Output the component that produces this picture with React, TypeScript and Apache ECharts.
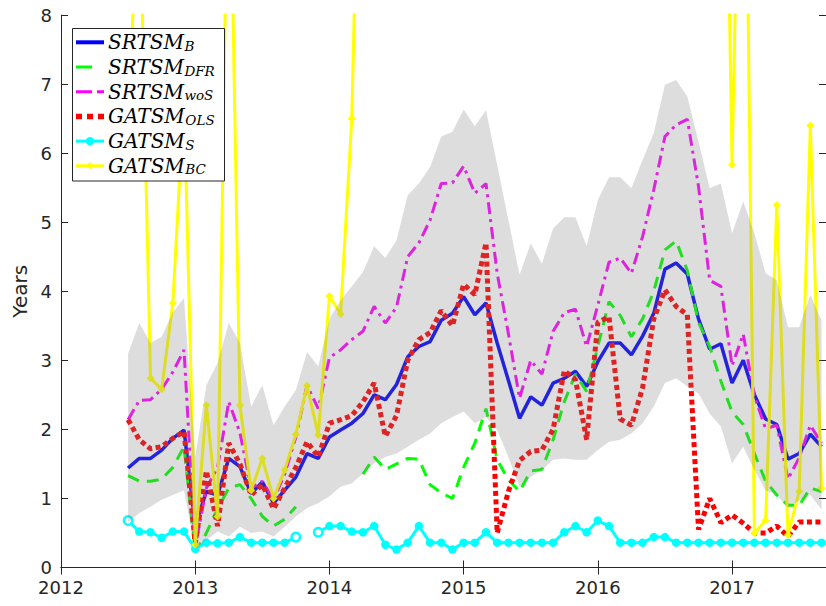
import React, { useEffect, useRef } from "react";
import * as echarts from "echarts";

// Monthly observations, Jul 2012 .. Sep 2017
const START_YEAR = 2012;
const START_MONTH = 7;
const N_MONTHS = 63;
const months: string[] = Array.from({ length: N_MONTHS }, (_, i) => {
  const m = START_MONTH - 1 + i;
  return `${START_YEAR + Math.floor(m / 12)}-${String((m % 12) + 1).padStart(2, "0")}`;
});
const xYears: number[] = months.map((s) => {
  const [y, m] = s.split("-").map(Number);
  return y + (m - 1) / 12;
});

const srtsmB = [1.44,1.58,1.58,1.70,1.87,1.99,0.60,1.10,1.05,1.58,1.46,1.07,1.24,0.93,1.12,1.31,1.65,1.58,1.89,1.99,2.09,2.23,2.50,2.43,2.65,3.05,3.20,3.27,3.58,3.68,3.92,3.66,3.83,3.25,2.71,2.16,2.47,2.35,2.67,2.74,2.84,2.62,2.98,3.25,3.25,3.08,3.35,3.68,4.32,4.41,4.25,3.60,3.16,3.24,2.67,3.00,2.50,2.15,2.07,1.57,1.65,1.93,1.75];
const srtsmDFR = [1.33,1.25,1.25,1.28,1.45,1.75,0.22,0.50,0.85,1.15,1.20,1.00,0.74,0.60,0.70,0.88,null,null,null,null,null,1.35,1.60,1.42,1.50,1.58,1.57,1.20,1.08,1.00,1.45,1.80,2.30,1.56,1.27,1.10,1.40,1.42,1.85,2.40,2.80,2.55,3.20,3.85,3.65,3.34,3.60,4.00,4.60,4.73,4.30,3.55,3.20,2.70,2.25,2.07,1.65,1.25,1.05,0.90,0.90,1.15,1.10];
const srtsmWoS = [2.14,2.42,2.43,2.58,2.83,3.15,0.30,1.15,1.45,2.40,1.95,1.15,1.25,0.98,1.35,1.89,2.64,2.30,3.04,3.15,3.30,3.42,3.78,3.54,3.77,4.50,4.70,5.03,5.56,5.57,5.81,5.42,5.56,4.26,3.39,2.45,3.00,2.80,3.42,3.69,3.74,3.20,3.80,4.42,4.48,4.26,4.79,5.47,6.24,6.41,6.49,5.52,4.16,4.07,2.92,3.38,2.48,2.01,2.06,1.28,1.59,2.06,1.80];
const gatsmOLS = [2.14,1.85,1.72,1.75,1.87,1.97,0.35,1.40,0.60,1.80,1.50,1.05,1.20,0.85,1.15,1.45,1.82,1.60,2.09,2.14,2.20,2.40,2.67,1.90,2.20,3.00,3.30,3.40,3.72,3.50,4.10,3.95,4.70,0.50,1.10,1.55,1.68,1.70,2.00,2.85,2.72,1.85,3.55,3.63,2.15,2.06,2.60,3.60,4.02,3.78,3.66,0.55,1.00,0.65,0.76,0.64,0.50,0.50,0.60,0.45,0.66,0.66,0.66];
const gatsmS = [0.68,0.52,0.51,0.43,0.52,0.52,0.27,0.36,0.35,0.36,0.44,0.36,0.36,0.36,0.36,0.44,null,0.51,0.60,0.60,0.52,0.51,0.60,0.33,0.26,0.36,0.60,0.36,0.36,0.26,0.36,0.36,0.51,0.36,0.36,0.36,0.36,0.36,0.36,0.51,0.60,0.51,0.68,0.60,0.36,0.36,0.36,0.44,0.44,0.36,0.36,0.36,0.36,0.36,0.36,0.36,0.36,0.36,0.36,0.36,0.36,0.36,0.36];
const gatsmBC = [6.5,10.0,2.74,2.58,3.83,6.8,0.33,2.35,0.74,11.5,2.35,1.12,1.58,1.00,1.41,1.93,2.63,1.92,3.93,3.67,6.50,13.4,
  null,null,null,null,null,null,null,null,null,null,null,null,null,null,null,null,null,null,null,null,null,null,null,null,null,null,null,null,null,null,null,
  15.5,5.83,13.9,0.50,0.68,5.25,0.47,1.10,6.40,1.15];
const bandUpper = [3.10,3.54,3.25,3.34,3.70,3.90,1.60,2.64,2.96,3.54,3.25,2.33,2.64,2.06,2.33,2.57,3.12,2.91,3.60,3.87,4.07,4.28,4.65,4.48,4.74,5.39,5.56,5.80,6.24,6.31,6.63,6.39,6.62,5.83,5.03,4.24,4.69,4.40,4.91,5.07,5.07,4.65,5.32,5.65,5.65,5.49,5.90,6.29,6.99,7.06,6.82,6.17,5.49,5.56,4.84,5.30,4.84,4.26,4.16,3.48,3.48,3.95,3.58];
const bandLower = [0.65,0.79,0.88,0.98,1.05,1.12,0.25,0.40,0.52,0.45,0.59,0.50,0.52,0.45,0.59,0.74,0.86,0.93,1.03,1.17,1.22,1.36,1.51,1.60,1.65,1.75,1.85,1.94,2.09,2.18,2.26,2.09,2.18,1.99,1.60,1.17,1.31,1.41,1.56,1.58,1.56,1.56,1.70,1.82,1.85,1.94,2.09,2.33,2.67,2.74,2.62,2.52,2.23,2.04,1.51,1.75,1.41,1.12,1.05,0.86,0.97,1.05,0.84];

const yearTicks = [2012, 2013, 2014, 2015, 2016, 2017];
const hollowCyan = [0, 15, 17];

const legendItems = [
  { main: "SRTSM", sub: "B", color: "#0000ff", width: 4, dash: null as number[] | null, marker: "" },
  { main: "SRTSM", sub: "DFR", color: "#00ff00", width: 3, dash: [16, 20], marker: "" },
  { main: "SRTSM", sub: "woS", color: "#ff00ff", width: 3, dash: [16, 5, 7, 5], marker: "" },
  { main: "GATSM", sub: "OLS", color: "#ff0000", width: 5.5, dash: [6, 5], marker: "" },
  { main: "GATSM", sub: "S", color: "#00ffff", width: 3, dash: null, marker: "circle" },
  { main: "GATSM", sub: "BC", color: "#ffff00", width: 3, dash: null, marker: "diamond" },
];

const AX = "#262626";
const FONT = "DejaVu Sans";

function pairs(arr: (number | null)[]) {
  return arr.map((v, i) => [xYears[i], v == null ? null : v]);
}

function measure(text: string, font: string) {
  const c = document.createElement("canvas").getContext("2d");
  if (!c) return text.length * 15;
  c.font = font;
  return c.measureText(text).width;
}

export default function App() {
  const ref = useRef<HTMLDivElement>(null);
  useEffect(() => {
    if (!ref.current) return;
    const chart = echarts.init(ref.current, undefined, { renderer: "svg" });

    const gridLeft = 61, gridTop = 15, gridW = 765.5, gridH = 552.5;
    const xMin = 2012, xMax = 2017.7;

    const graphics: any[] = [
      {
        type: "rect",
        z: 100,
        shape: { x: 72.5, y: 28.5, width: 152, height: 152.5 },
        style: { fill: "#ffffff", stroke: AX, lineWidth: 1 },
      },
    ];
    const mainFont = 'italic 20px "DejaVu Serif"';
    const subFont = 'italic 13.5px "DejaVu Serif"';
    legendItems.forEach((it, k) => {
      const cy = 42.3 + k * 24.7;
      graphics.push({
        type: "line",
        z: 101,
        shape: { x1: 76, y1: cy, x2: 104, y2: cy },
        style: { stroke: it.color, lineWidth: it.width, lineDash: it.dash || undefined, lineCap: "butt" },
      });
      if (it.marker === "circle") {
        graphics.push({ type: "circle", z: 102, shape: { cx: 90, cy, r: 4.2 }, style: { fill: it.color } });
      } else if (it.marker === "diamond") {
        graphics.push({
          type: "polygon",
          z: 102,
          shape: { points: [[90, cy - 3.5], [93.5, cy], [90, cy + 3.5], [86.5, cy]] },
          style: { fill: it.color },
        });
      }
      const w = measure(it.main, mainFont);
      graphics.push({
        type: "text",
        z: 102,
        x: 108,
        y: cy,
        style: { text: it.main, font: mainFont, fill: "#000", verticalAlign: "middle", align: "left" },
      });
      graphics.push({
        type: "text",
        z: 102,
        x: 108 + w + 0.5,
        y: cy + 3.6,
        style: { text: it.sub, font: subFont, fill: "#000", verticalAlign: "middle", align: "left" },
      });
    });

    const common = { type: "line", symbol: "none", silent: true, clip: true, connectNulls: false, z: 2 };

    const bandData = xYears.map((x, i) => [x, bandLower[i], bandUpper[i]]);

    const option: any = {
      animation: false,
      backgroundColor: "#ffffff",
      grid: { left: gridLeft, top: gridTop, width: gridW, height: gridH, containLabel: false },
      xAxis: [
        {
          type: "value", position: "bottom", min: xMin, max: xMax, interval: 1,
          axisLine: { show: true, lineStyle: { color: AX, width: 1 } },
          axisTick: { show: true, inside: true, length: 7, lineStyle: { color: AX } },
          axisLabel: {
            show: true, color: AX, fontFamily: FONT, fontSize: 18, margin: 11,
            showMaxLabel: false,
            formatter: (v: number) => (yearTicks.includes(Math.round(v)) && Math.abs(v - Math.round(v)) < 1e-6 ? String(Math.round(v)) : ""),
          },
          splitLine: { show: false },
        },
        {
          type: "value", position: "top", min: xMin, max: xMax, interval: 1,
          axisLine: { show: true, lineStyle: { color: AX, width: 1 } },
          axisTick: { show: true, inside: true, length: 7, lineStyle: { color: AX } },
          axisLabel: { show: false },
          splitLine: { show: false },
        },
      ],
      yAxis: [
        {
          type: "value", position: "left", min: 0, max: 8, interval: 1,
          name: "Years", nameLocation: "middle", nameGap: 28, nameRotate: 90,
          nameTextStyle: { color: AX, fontFamily: FONT, fontSize: 20 },
          axisLine: { show: true, lineStyle: { color: AX, width: 1 } },
          axisTick: { show: true, inside: true, length: 7, lineStyle: { color: AX } },
          axisLabel: { show: true, color: AX, fontFamily: FONT, fontSize: 18, margin: 9 },
          splitLine: { show: false },
        },
        {
          type: "value", position: "right", min: 0, max: 8, interval: 1,
          axisLine: { show: true, lineStyle: { color: AX, width: 1 } },
          axisTick: { show: true, inside: true, length: 7, lineStyle: { color: AX } },
          axisLabel: { show: false },
          splitLine: { show: false },
        },
      ],
      series: [
        { ...common, name: "SRTSM_B", data: pairs(srtsmB), lineStyle: { color: "#0000ff", width: 3.5 } },
        { ...common, name: "SRTSM_DFR", data: pairs(srtsmDFR), lineStyle: { color: "#00ff00", width: 3, type: [12, 8] } },
        { ...common, name: "SRTSM_woS", data: pairs(srtsmWoS), lineStyle: { color: "#ff00ff", width: 3, type: [12, 5, 3, 5] } },
        { ...common, name: "GATSM_OLS", data: pairs(gatsmOLS), lineStyle: { color: "#ff0000", width: 5, type: [5, 3.5], cap: "butt" } },
        {
          ...common, name: "GATSM_S", symbol: "circle", symbolSize: 8.5, showSymbol: true, showAllSymbol: true,
          data: gatsmS.map((v, i) =>
            hollowCyan.includes(i)
              ? { value: [xYears[i], v], itemStyle: { color: "#ffffff", borderColor: "#00ffff", borderWidth: 2.5 } }
              : [xYears[i], v]
          ),
          itemStyle: { color: "#00ffff" },
          lineStyle: { color: "#00ffff", width: 3 },
        },
        {
          ...common, name: "GATSM_BC", symbol: "diamond", symbolSize: 8, showSymbol: true, showAllSymbol: true,
          data: pairs(gatsmBC), itemStyle: { color: "#ffff00" }, lineStyle: { color: "#ffff00", width: 3 },
        },
        {
          type: "custom",
          name: "band",
          silent: true,
          clip: true,
          z: 5,
          data: bandData,
          encode: { x: 0, y: [1, 2] },
          renderItem: (params: any, api: any) => {
            if (params.dataIndex !== 0) return null;
            const top = bandData.map((d) => api.coord([d[0], d[2]]));
            const bot = bandData.map((d) => api.coord([d[0], d[1]])).reverse();
            return {
              type: "polygon",
              z2: 100,
              shape: { points: top.concat(bot) },
              style: { fill: "rgba(128,128,128,0.27)", stroke: "none" },
            };
          },
        },
      ],
      graphic: graphics,
    };
    chart.setOption(option);
    return () => chart.dispose();
  }, []);
  return <div ref={ref} style={{ position: "absolute", left: 0, top: 0, width: 826, height: 606 }} />;
}
